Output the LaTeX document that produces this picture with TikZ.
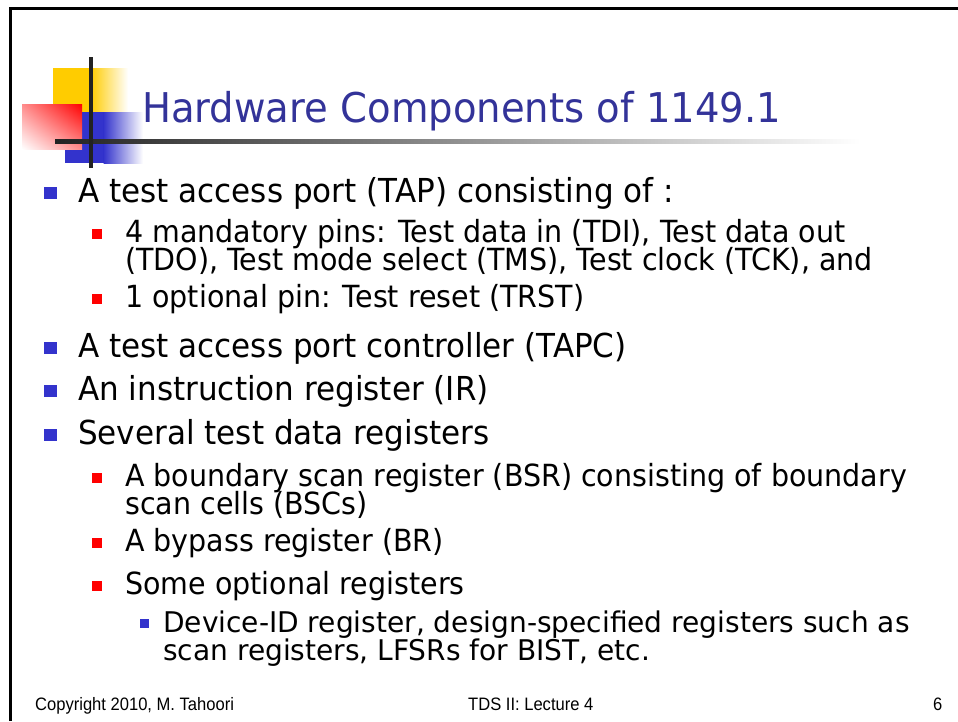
\documentclass[tikz,border=0pt]{standalone}
\usepackage{fontspec}
\usetikzlibrary{shadings}
\setmainfont{DejaVu Sans}
\newfontfamily\footfont{Liberation Sans}
\definecolor{titleblue}{HTML}{333399}
\definecolor{bulblue}{HTML}{3333CC}
\definecolor{logoyellow}{HTML}{FFCC00}
\definecolor{logoblue}{HTML}{3333CC}
\definecolor{bulred}{HTML}{FF0000}
\definecolor{barcol}{HTML}{222222}
\tikzset{
  lone/.style={anchor=base west, inner sep=0pt, font=\fontsize{33}{33}\selectfont},
  ltwo/.style={anchor=base west, inner sep=0pt, font=\fontsize{30.5}{30.5}\selectfont},
  lthree/.style={anchor=base west, inner sep=0pt, font=\fontsize{28.5}{28.5}\selectfont},
  bone/.style={fill=bulblue, draw=none, minimum size=12.5pt, inner sep=0pt},
  btwo/.style={fill=bulred, draw=none, minimum size=10pt, inner sep=0pt},
  bthree/.style={fill=bulblue, draw=none, minimum size=9pt, inner sep=0pt},
  foot/.style={anchor=base west, inner sep=0pt, font=\footfont\fontsize{18}{18}\selectfont},
}
\newcommand{\sa}[1]{\scalebox{0.94}[1]{#1}}
\newcommand{\sbb}[1]{\scalebox{0.935}[1]{#1}}
\newcommand{\scc}[1]{\scalebox{0.984}[1]{#1}}
\newcommand{\fx}[1]{\scalebox{0.92}[1]{#1}}
\begin{document}
\begin{tikzpicture}[x=1pt,y=-1pt]
\useasboundingbox (0,0) rectangle (958,721);
\fill[white] (0,0) rectangle (958,721);
% frame
\draw[line width=3pt, black] (10.5,721) -- (10.5,8.5) -- (958,8.5);
% logo
\fill[logoyellow] (53,68) rectangle (91,112);
\shade[left color=logoyellow, right color=white] (90.5,68) rectangle (128,112);
\fill[logoblue] (65,112) rectangle (104,163);
\shade[left color=logoblue, right color=white] (103.5,112) rectangle (143,163);
\shade[upper right=red, upper left=red!45!white, lower right=red!45!white, lower left=white] (22,104) rectangle (82,149);
\shade[left color=barcol, middle color=black!55, right color=white] (55,139) rectangle (860,143);
\fill[barcol] (89,57) rectangle (93,168);
% title
\node[anchor=base west, inner sep=0pt, text=titleblue, font=\fontsize{41}{41}\selectfont] (title) at (142,122) {\sa{Hardware Components of 1149.1}};
% level 1
\node[bone] (b1) at (50.5,193) {};
\node[lone] (t1) at (78,202) {\sa{A test access port (TAP) consisting of :}};
\node[btwo] (b2) at (96.5,234) {};
\node[ltwo] (t2) at (125,242) {\sbb{4 mandatory pins: Test data in (TDI), Test data out}};
\node[ltwo] (t3) at (125,270) {\sbb{(TDO), Test mode select (TMS), Test clock (TCK), and}};
\node[btwo] (b4) at (96.5,299) {};
\node[ltwo] (t4) at (125,307) {\sbb{1 optional pin: Test reset (TRST)}};
\node[bone] (b5) at (50.5,348) {};
\node[lone] (t5) at (78,357) {\sa{A test access port controller (TAPC)}};
\node[bone] (b6) at (50.5,391) {};
\node[lone] (t6) at (78,400) {\sa{An instruction register (IR)}};
\node[bone] (b7) at (50.5,435) {};
\node[lone] (t7) at (78,444) {\sa{Several test data registers}};
\node[btwo] (b8) at (96.5,478) {};
\node[ltwo] (t8) at (125,486) {\sbb{A boundary scan register (BSR) consisting of boundary}};
\node[ltwo] (t9) at (125,514) {\sbb{scan cells (BSCs)}};
\node[btwo] (b10) at (96.5,543) {};
\node[ltwo] (t10) at (125,551) {\sbb{A bypass register (BR)}};
\node[btwo] (b11) at (96.5,586) {};
\node[ltwo] (t11) at (125,594) {\sbb{Some optional registers}};
\node[bthree] (b12) at (144.5,623.5) {};
\node[lthree] (t12) at (163,632) {\scc{Device-ID register, design-specified registers such as}};
\node[lthree] (t13) at (163,660) {\scc{scan registers, LFSRs for BIST, etc.}};
% footer
\node[foot] (f1) at (35,710) {\fx{Copyright 2010, M. Tahoori}};
\node[foot] (f2) at (468,710) {\fx{TDS II: Lecture 4}};
\node[foot] (f3) at (933,710) {\fx{6}};
\end{tikzpicture}
\end{document}
